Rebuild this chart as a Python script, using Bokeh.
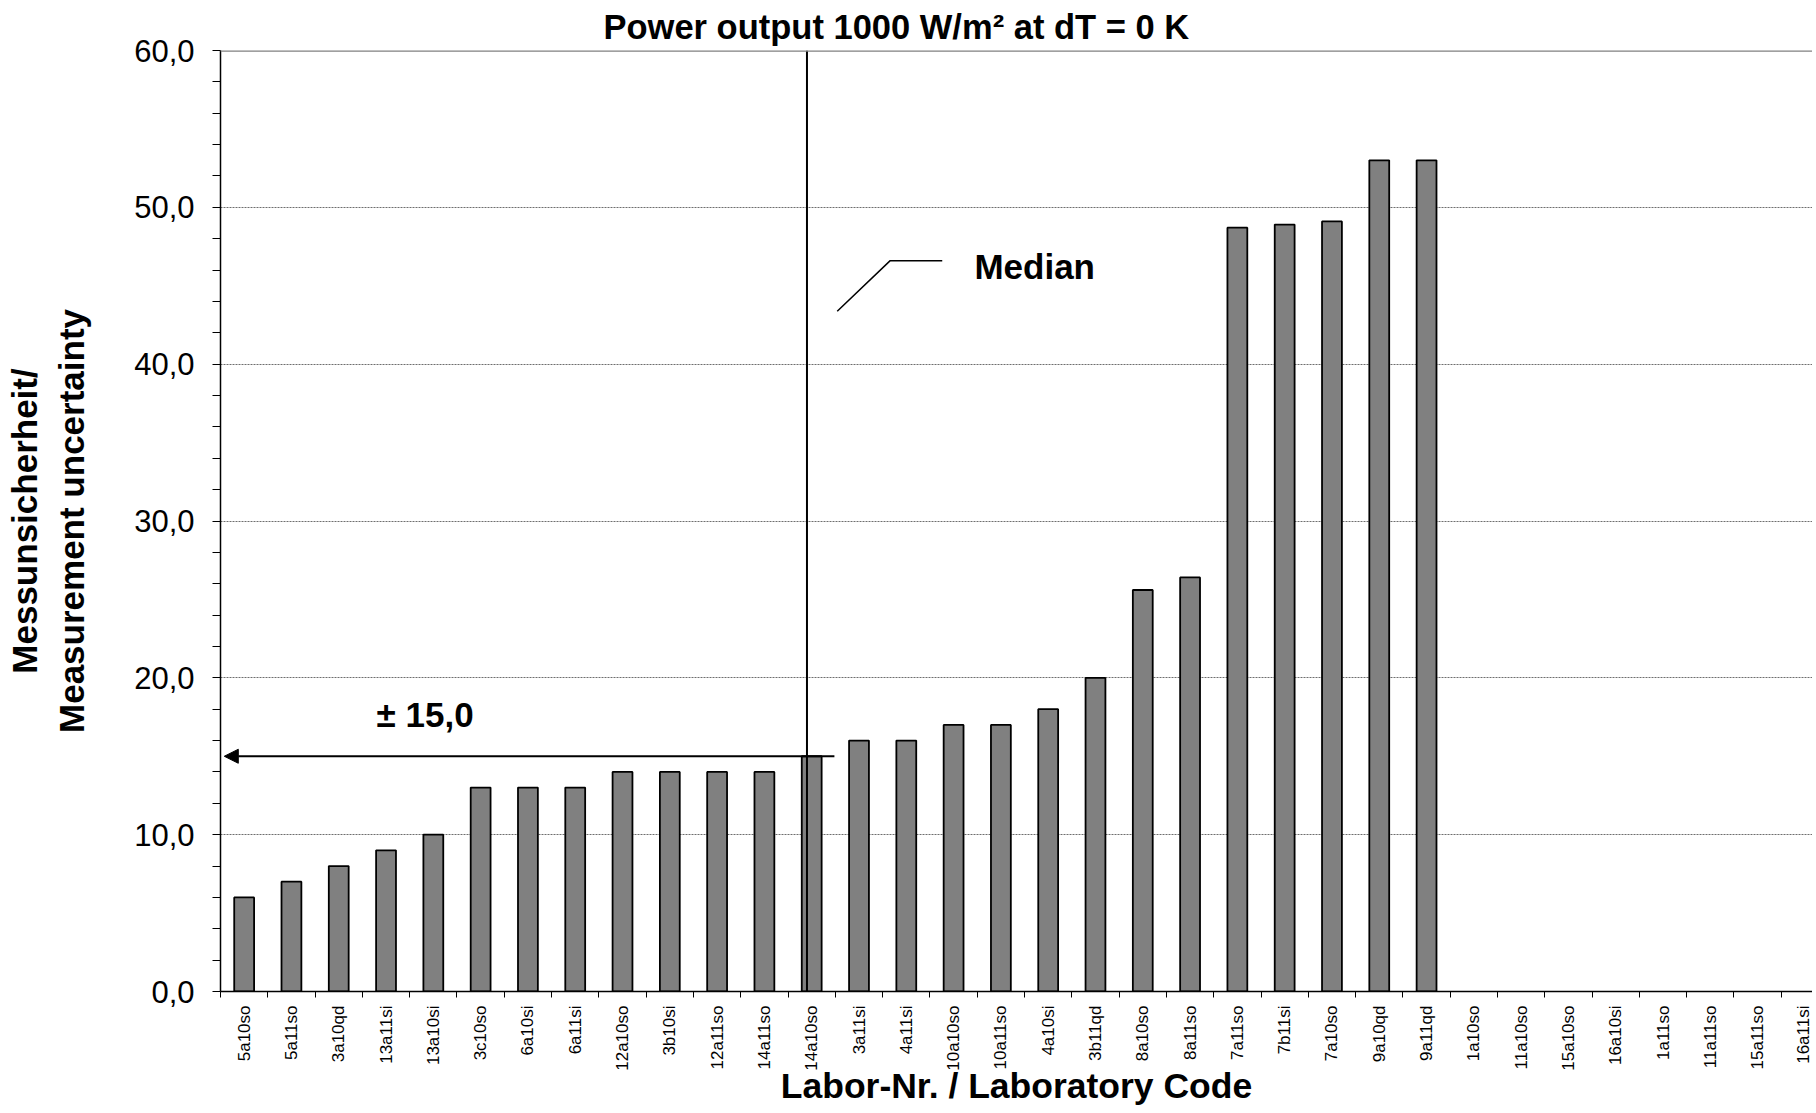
import math
from bokeh.plotting import figure
from bokeh.models import Range1d, FixedTicker, Span, Arrow, NormalHead, Label
from bokeh.embed import file_html
from bokeh.resources import INLINE

# ---------------- data ----------------
lab_codes = ["5a10so", "5a11so", "3a10qd", "13a11si", "13a10si", "3c10so", "6a10si",
             "6a11si", "12a10so", "3b10si", "12a11so", "14a11so", "14a10so", "3a11si",
             "4a11si", "10a10so", "10a11so", "4a10si", "3b11qd", "8a10so", "8a11so",
             "7a11so", "7b11si", "7a10so", "9a10qd", "9a11qd", "1a10so", "11a10so",
             "15a10so", "16a10si", "1a11so", "11a11so", "15a11so", "16a11si"]
# measurement uncertainty (only the first 26 labs reported a value)
uncertainty = [6.0, 7.0, 8.0, 9.0, 10.0, 13.0, 13.0, 13.0, 14.0, 14.0, 14.0, 14.0, 15.0,
               16.0, 16.0, 17.0, 17.0, 18.0, 20.0, 25.6, 26.4, 48.7, 48.9, 49.1, 53.0, 53.0]
y_ticks = [0, 10, 20, 30, 40, 50, 60]
y_minor = [2, 4, 6, 8, 12, 14, 16, 18, 22, 24, 26, 28, 32, 34, 36, 38,
           42, 44, 46, 48, 52, 54, 56, 58]
median_value = 15.0
median_label = "± 15,0"
title_text = "Power output 1000 W/m² at dT = 0 K"

FONT = "Liberation Sans"

x_pos = list(range(len(lab_codes)))
bar_x = x_pos[:len(uncertainty)]

p = figure(width=1812, height=1108, output_backend="svg", toolbar_location=None,
           x_range=Range1d(-0.5, 33.16), y_range=Range1d(0, 60),
           min_border_left=220, min_border_right=0, min_border_top=50, min_border_bottom=100)
p.outline_line_color = None
p.background_fill_color = "white"
p.border_fill_color = "white"

# title
p.title.text = title_text
p.title.align = "left"
p.title.offset = 383
p.title.standoff = 10
p.title.text_font = FONT
p.title.text_font_style = "bold"
p.title.text_font_size = "34.5px"
p.title.text_color = "black"

# grid
p.xgrid.visible = False
p.ygrid.ticker = FixedTicker(ticks=[t for t in y_ticks if 0 < t < 60])
p.ygrid.grid_line_color = "#6e6e6e"
p.ygrid.grid_line_dash = "2 1"
p.ygrid.grid_line_width = 1
p.add_layout(Span(location=y_ticks[-1], dimension="width", line_color="#808080", line_width=2.5))

# bars
p.vbar(x=bar_x, top=uncertainty, width=0.42, bottom=0,
       fill_color="#808080", line_color="black", line_width=1.8)

# y axis
p.yaxis.ticker = FixedTicker(ticks=y_ticks, minor_ticks=y_minor)
p.yaxis.major_label_overrides = {t: f"{t},0" for t in y_ticks}
p.yaxis.major_label_text_font = FONT
p.yaxis.major_label_text_font_size = "31px"
p.yaxis.major_label_text_color = "black"
p.yaxis.major_tick_in = 0
p.yaxis.major_tick_out = 8
p.yaxis.minor_tick_in = 0
p.yaxis.minor_tick_out = 8
p.yaxis.major_label_standoff = 18
p.yaxis.axis_line_width = 1.5
p.yaxis.axis_line_color = "black"
p.yaxis.axis_label = "Messunsicherheit/\nMeasurement uncertainty"
p.yaxis.axis_label_text_font = FONT
p.yaxis.axis_label_text_font_style = "bold"
p.yaxis.axis_label_text_font_size = "35px"
p.yaxis.axis_label_text_color = "black"
p.yaxis.axis_label_standoff = 40

# x axis
p.xaxis.ticker = FixedTicker(ticks=x_pos, minor_ticks=[i - 0.5 for i in range(len(lab_codes) + 1)])
p.xaxis.major_label_overrides = {i: c for i, c in zip(x_pos, lab_codes)}
p.xaxis.major_label_orientation = math.pi / 2
p.xaxis.major_label_text_font = FONT
p.xaxis.major_label_text_font_size = "17px"
p.xaxis.major_label_text_color = "black"
p.xaxis.major_tick_in = 0
p.xaxis.major_tick_out = 0
p.xaxis.minor_tick_in = 0
p.xaxis.minor_tick_out = 6
p.xaxis.major_label_standoff = 8
p.xaxis.axis_line_width = 1.5
p.xaxis.axis_line_color = "black"
p.xaxis.axis_label = "Labor-Nr. / Laboratory Code"
p.xaxis.axis_label_text_font = FONT
p.xaxis.axis_label_text_font_style = "bold"
p.xaxis.axis_label_text_font_size = "35.5px"
p.xaxis.axis_label_text_color = "black"
p.xaxis.axis_label_standoff = -8

# median line and annotations
median_x = 11.9
p.segment(x0=[median_x], y0=[0], x1=[median_x], y1=[y_ticks[-1]], line_color="black", line_width=2)
p.add_layout(Arrow(end=NormalHead(size=14, fill_color="black", line_color="black"),
                   x_start=12.48, y_start=median_value, x_end=-0.42, y_end=median_value,
                   line_color="black", line_width=2))
p.add_layout(Label(x=2.8, y=17.65, text=median_label, text_font=FONT, text_font_style="bold",
                   text_font_size="35px", text_baseline="middle", text_align="left",
                   text_color="black"))
p.line(x=[12.54, 13.66, 14.76], y=[43.37, 46.6, 46.6], line_color="black", line_width=1.5)
p.add_layout(Label(x=15.44, y=46.2, text="Median", text_font=FONT, text_font_style="bold",
                   text_font_size="35px", text_baseline="middle", text_align="left",
                   text_color="black"))

open("out.html", "w").write(file_html(p, INLINE))
